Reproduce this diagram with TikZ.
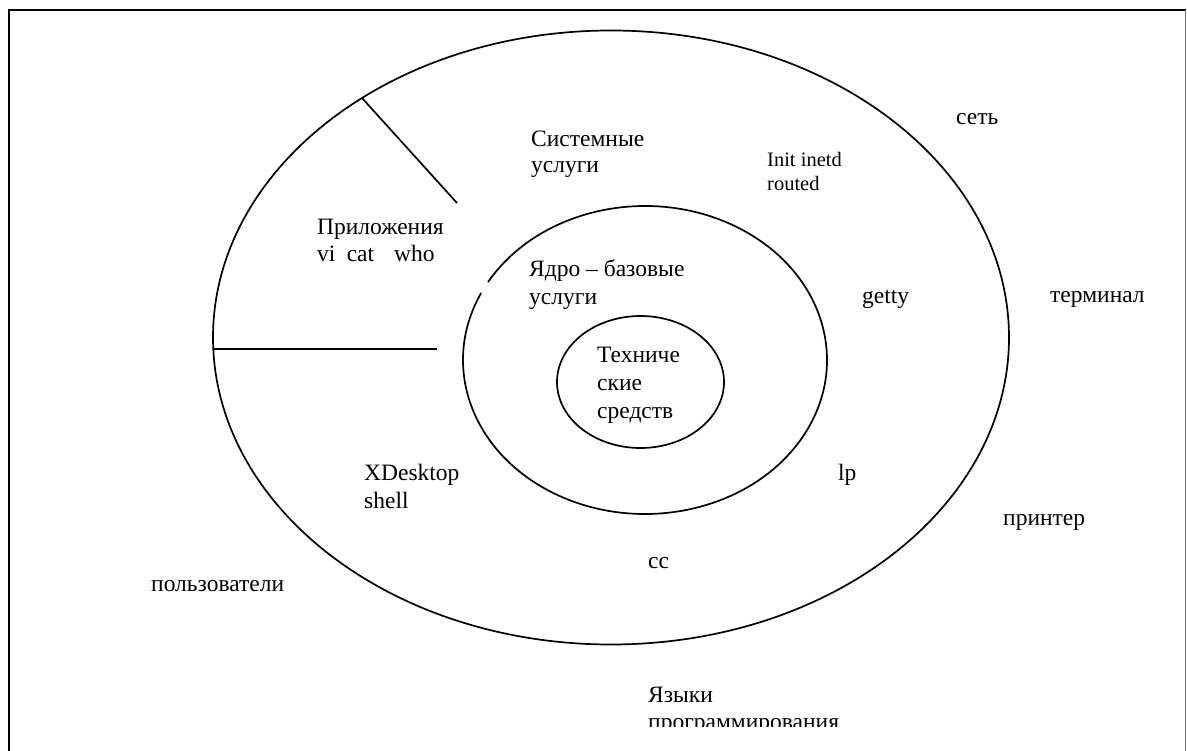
\documentclass[tikz,border=0pt]{standalone}
\usepackage{fontspec}
\setmainfont{Liberation Serif}
\usetikzlibrary{calc}
\begin{document}
\begin{tikzpicture}[x=1pt,y=-1pt,
  txt/.style={anchor=base west, inner sep=0pt, font=\fontsize{23.5}{27}\selectfont},
  txtsmall/.style={anchor=base west, inner sep=0pt, font=\fontsize{20.5}{24}\selectfont},
  ring/.style={line width=1.7pt, black}]
  \path[use as bounding box] (0,0) rectangle (1187,751);

  % frame
  \draw[line width=2pt] (9,751) -- (9,10) -- (1186,10);
  \draw[line width=1pt, black!55] (1185.5,10) -- (1185.5,751);

  % outer ring
  \coordinate (oc) at (611,337.5);
  \draw[ring] (oc) ellipse [x radius=398, y radius=307];

  % middle ring, with a small opening on the upper left
  \coordinate (mc) at (645,360);
  \draw[ring] ($(mc)+(210.4:182 and 154)$)
    arc [start angle=210.4, end angle=565.8, x radius=182, y radius=154];

  % inner ring
  \coordinate (ic) at (640.5,382);
  \draw[ring] (ic) ellipse [x radius=83.5, y radius=66];

  % sector dividers
  \coordinate (a1) at (362,98);  \coordinate (a2) at (457,203);
  \coordinate (b1) at (213,349); \coordinate (b2) at (437,349);
  \draw[ring] (a1) -- (a2);
  \draw[ring] (b1) -- (b2);

  % labels
  \node[txt] (app1) at (317,235) {Приложения};
  \node[txt] (app2) at (317,262) {vi\hspace{11.3pt}cat\hspace{20pt}who};
  \node[txt] (sys1) at (531,147) {Системные};
  \node[txt] (sys2) at (531,173) {услуги};
  \node[txtsmall] (init1) at (767,167) {Init inetd};
  \node[txtsmall] (init2) at (767,191) {routed};
  \node[txt] (net) at (956,125) {сеть};
  \node[txt] (core1) at (529,277) {Ядро – базовые};
  \node[txt] (core2) at (529,305) {услуги};
  \node[txt] (getty) at (862,304) {getty};
  \node[txt] (term) at (1050,303) {терминал};
  \node[txt] (hw1) at (597,363) {Техниче};
  \node[txt] (hw2) at (597,390.5) {ские};
  \node[txt] (hw3) at (597,418) {средств};
  \node[txt] (xd1) at (364,480) {XDesktop};
  \node[txt] (xd2) at (364,508) {shell};
  \node[txt] (lp) at (838,480) {lp};
  \node[txt] (cc) at (648,568) {cc};
  \node[txt] (prn) at (1003,525) {принтер};
  \node[txt] (users) at (151,591) {пользователи};
  \node[txt] (lang1) at (648,702) {Языки};
  \begin{scope}
    \clip (600,705) rectangle (1000,726);
    \node[txt] (lang2) at (648,729) {программирования};
  \end{scope}
\end{tikzpicture}
\end{document}
